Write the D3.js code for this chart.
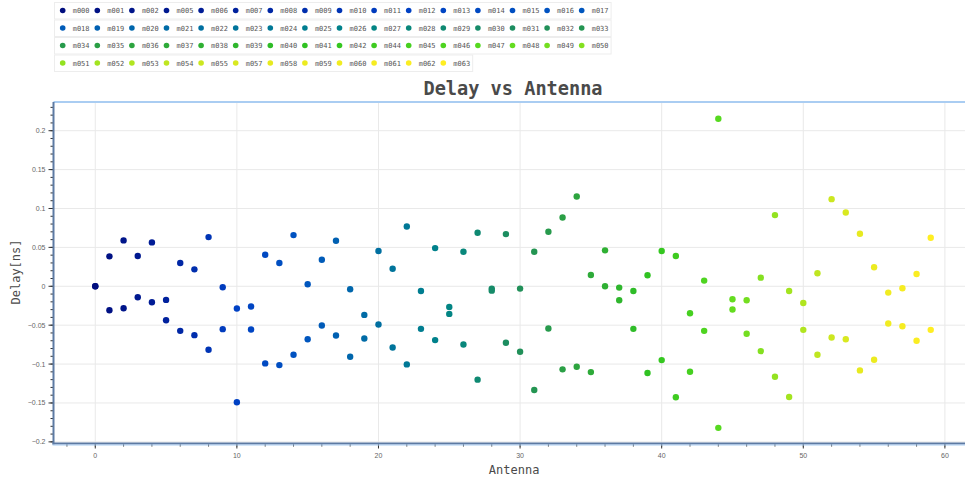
<!DOCTYPE html>
<html>
<head>
<meta charset="utf-8">
<script src="https://cdn.jsdelivr.net/npm/d3@7"></script>
<style>
  html, body { margin: 0; padding: 0; background: #ffffff; }
  svg { display: block; }
</style>
</head>
<body>
<svg id="chart" width="966" height="484"></svg>
<script>
// Antenna names, in plotting order (x = position in this list)
const antennaNames = [
  "m000","m001","m002","m005","m006","m007","m008","m009","m010","m011","m012","m013","m014","m015","m016","m017",
  "m018","m019","m020","m021","m022","m023","m024","m025","m026","m027","m028","m029","m030","m031","m032","m033",
  "m034","m035","m036","m037","m038","m039","m040","m041","m042","m044","m045","m046","m047","m048","m049","m050",
  "m051","m052","m053","m054","m055","m057","m058","m059","m060","m061","m062","m063"
];

// Delay per antenna [ns], first measurement
const delayFirst = [
  0.0, 0.0385, 0.059, 0.0389, 0.0564, -0.0175, 0.0299, 0.0218, 0.0632, -0.0013,
  -0.0286, -0.026, 0.0406, 0.0299, 0.0658, 0.0026, 0.0342, 0.0585, -0.0038, -0.0368,
  0.0453, 0.0226, 0.0769, -0.006, 0.0491, -0.0265, 0.0444, 0.0688, -0.003, 0.0671,
  -0.003, 0.0444, 0.0701, 0.0885, 0.1154, 0.0145, 0.0462, -0.0017, -0.006, 0.0141,
  0.0453, 0.0389, -0.0346, 0.0073, 0.2154, -0.0167, -0.018, 0.0111, 0.0915, -0.006,
  -0.0214, 0.0167, 0.112, 0.0949, 0.0675, 0.0244, -0.0081, -0.0026, 0.0158, 0.0624
];

// Delay per antenna [ns], second measurement
const delaySecond = [
  0.0, -0.0308, -0.0282, -0.0141, -0.0205, -0.0436, -0.0573, -0.0628, -0.0816, -0.0551,
  -0.149, -0.0556, -0.0991, -0.1013, -0.088, -0.068, -0.0504, -0.0632, -0.0906, -0.0671,
  -0.0491, -0.0786, -0.1004, -0.0547, -0.0692, -0.0355, -0.0748, -0.12, -0.0056, -0.0726,
  -0.0842, -0.1333, -0.0543, -0.1068, -0.1034, -0.1103, 0.0, -0.0179, -0.0547, -0.1115,
  -0.0949, -0.1427, -0.1098, -0.0573, -0.182, -0.0299, -0.0611, -0.0833, -0.1162, -0.1423,
  -0.056, -0.088, -0.0658, -0.068, -0.1081, -0.0944, -0.0479, -0.0513, -0.0701, -0.056
];

const xTicks = [0, 10, 20, 30, 40, 50, 60];
const yTicks = [-0.2, -0.15, -0.1, -0.05, 0, 0.05, 0.1, 0.15, 0.2];

const titleText = "Delay vs Antenna";
const xLabel = "Antenna";
const yLabel = "Delay[ns]";

// ---- layout ----
const svg = d3.select("#chart");
const plot = { left: 53.5, right: 965, top: 102, bottom: 443.5 };
const mono = "'DejaVu Sans Mono', monospace";
const sans = "'Liberation Sans', Arial, sans-serif";

const x = d3.scaleLinear().domain([-2.95, 61.42]).range([plot.left, plot.right]);
const y = d3.scaleLinear().domain([-0.2021, 0.2369]).range([plot.bottom, plot.top]);

// blue -> green -> yellow ramp across antennas
const rampStops = ["#000d7e", "#00209c", "#0040c4", "#0055c0", "#006ea2", "#008488", "#1f8e5c", "#2ea63c", "#30c420", "#58da20", "#a6e420", "#e8ea20", "#ffee22"];
const ramp = d3.scaleLinear()
  .domain(rampStops.map((_, i) => i * (antennaNames.length - 1) / (rampStops.length - 1)))
  .range(rampStops)
  .interpolate(d3.interpolateRgb);
const colorOf = i => ramp(i);

// ---- legend ----
const perRow = 16;
const itemW = 34.6;
const rowH = 17.5;
const legend = svg.append("g");
const nRows = Math.ceil(antennaNames.length / perRow);
for (let r = 0; r < nRows; r++) {
  const items = antennaNames.slice(r * perRow, (r + 1) * perRow);
  const top = 2.5 + r * rowH;
  legend.append("rect")
    .attr("x", 54.5).attr("y", top)
    .attr("width", items.length * itemW + 3).attr("height", rowH - 1)
    .attr("fill", "#ffffff").attr("stroke", "#ededed").attr("stroke-width", 1);
  items.forEach((name, j) => {
    const idx = r * perRow + j;
    const cx = 62.7 + j * itemW;
    const cy = top + 8;
    legend.append("circle").attr("cx", cx).attr("cy", cy).attr("r", 2.8).attr("fill", colorOf(idx));
    legend.append("text").attr("x", cx + 10).attr("y", cy + 2.5)
      .attr("font-family", mono).attr("font-size", 7).attr("fill", "#555")
      .text(name);
  });
}

// ---- title ----
svg.append("text")
  .attr("x", 513).attr("y", 95)
  .attr("text-anchor", "middle")
  .attr("font-family", mono).attr("font-weight", "bold").attr("font-size", 18.6)
  .attr("fill", "#4a4a4a")
  .text(titleText);

// ---- grid ----
const grid = svg.append("g");
grid.selectAll("line.gx").data(xTicks).join("line")
  .attr("x1", d => x(d)).attr("x2", d => x(d))
  .attr("y1", plot.top).attr("y2", plot.bottom)
  .attr("stroke", "#e9e9e9").attr("stroke-width", 1);
grid.selectAll("line.gy").data(yTicks).join("line")
  .attr("x1", plot.left).attr("x2", plot.right)
  .attr("y1", d => y(d)).attr("y2", d => y(d))
  .attr("stroke", "#e9e9e9").attr("stroke-width", 1);

// top border of the frame
svg.append("line")
  .attr("x1", plot.left).attr("x2", plot.right)
  .attr("y1", plot.top).attr("y2", plot.top)
  .attr("stroke", "#aacdf2").attr("stroke-width", 2);

// ---- points ----
const pts = [];
antennaNames.forEach((n, i) => {
  pts.push({ i, v: delayFirst[i] });
  pts.push({ i, v: delaySecond[i] });
});
svg.append("g").selectAll("circle").data(pts).join("circle")
  .attr("cx", d => x(d.i)).attr("cy", d => y(d.v))
  .attr("r", 3.2)
  .attr("fill", d => colorOf(d.i));

// ---- axes ----
const fmt = d => (d < 0 ? "\u2212" : "") + d3.format("")(Math.abs(+d.toFixed(2)));
const axisColor = "#5d7aa3";

const yMinor = d3.range(-20, 24).map(k => k / 100).filter(v => v >= y.domain()[0] && v <= y.domain()[1]);
const yAxisG = svg.append("g");
yAxisG.selectAll("line.minor").data(yMinor).join("line")
  .attr("x1", plot.left - 3).attr("x2", plot.left)
  .attr("y1", d => y(d)).attr("y2", d => y(d))
  .attr("stroke", "#333").attr("stroke-width", 1);
yAxisG.selectAll("line.major").data(yTicks).join("line")
  .attr("x1", plot.left - 5).attr("x2", plot.left)
  .attr("y1", d => y(d)).attr("y2", d => y(d))
  .attr("stroke", "#333").attr("stroke-width", 1);
yAxisG.selectAll("text").data(yTicks).join("text")
  .attr("x", plot.left - 8).attr("y", d => y(d) + 2.5)
  .attr("text-anchor", "end")
  .attr("font-family", sans).attr("font-size", 7).attr("fill", "#666")
  .text(fmt);
yAxisG.append("line")
  .attr("x1", plot.left).attr("x2", plot.left)
  .attr("y1", plot.top).attr("y2", plot.bottom + 1)
  .attr("stroke", axisColor).attr("stroke-width", 2);

const xMinor = d3.range(-2, 62, 2).filter(v => v >= x.domain()[0] && v <= x.domain()[1]);
const xAxisG = svg.append("g");
xAxisG.selectAll("line.minor").data(xMinor).join("line")
  .attr("x1", d => x(d)).attr("x2", d => x(d))
  .attr("y1", plot.bottom).attr("y2", plot.bottom + 3)
  .attr("stroke", "#333").attr("stroke-width", 1);
xAxisG.selectAll("line.major").data(xTicks).join("line")
  .attr("x1", d => x(d)).attr("x2", d => x(d))
  .attr("y1", plot.bottom).attr("y2", plot.bottom + 5)
  .attr("stroke", "#333").attr("stroke-width", 1);
xAxisG.selectAll("text").data(xTicks).join("text")
  .attr("x", d => x(d)).attr("y", plot.bottom + 14)
  .attr("text-anchor", "middle")
  .attr("font-family", sans).attr("font-size", 7).attr("fill", "#666")
  .text(d => d);
xAxisG.append("line")
  .attr("x1", plot.left - 1).attr("x2", plot.right)
  .attr("y1", plot.bottom).attr("y2", plot.bottom)
  .attr("stroke", axisColor).attr("stroke-width", 2);
xAxisG.append("line")
  .attr("x1", plot.left - 1).attr("x2", plot.right)
  .attr("y1", plot.bottom + 1.5).attr("y2", plot.bottom + 1.5)
  .attr("stroke", "#aacdf2").attr("stroke-width", 1);

// ---- axis labels ----
svg.append("text")
  .attr("x", x(30) - 6).attr("y", 474)
  .attr("text-anchor", "middle")
  .attr("font-family", mono).attr("font-size", 12).attr("fill", "#4a4a4a")
  .text(xLabel);
svg.append("text")
  .attr("transform", `translate(20, ${272}) rotate(-90)`)
  .attr("text-anchor", "middle")
  .attr("font-family", mono).attr("font-size", 12).attr("fill", "#4a4a4a")
  .text(yLabel);
</script>
</body>
</html>
